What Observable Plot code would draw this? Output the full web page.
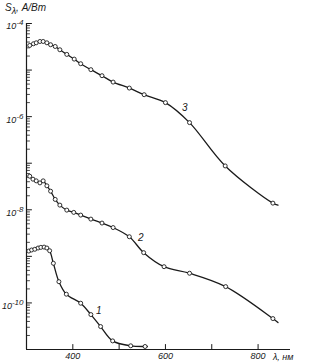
<!DOCTYPE html>
<html>
<head>
<meta charset="utf-8">
<script src="https://cdn.jsdelivr.net/npm/d3@7"></script>
<script src="https://cdn.jsdelivr.net/npm/@observablehq/plot@0.6"></script>
<style>
  body { margin: 0; background: #fff; }
  #wrap { position: relative; width: 324px; height: 363px; }
  #ylab { position: absolute; left: 5px; top: 2px; font: italic 10px "Liberation Sans", sans-serif; color: #1a1a1a; z-index: 2; }
  #ylab sub { font-size: 9px; }
</style>
</head>
<body>
<div id="wrap"><div id="ylab">S<sub>λ</sub>, А/Вт</div></div>
<script>
// Curve 3
const lambda3 = [307, 315, 321, 329, 336, 344, 352, 362, 372, 387, 403, 417, 439, 463, 487, 522, 554, 600, 652, 729, 832];
const s3 = [3.38e-5, 3.67e-5, 3.85e-5, 4.11e-5, 4.11e-5, 3.85e-5, 3.50e-5, 3.21e-5, 2.73e-5, 2.17e-5, 1.72e-5, 1.37e-5, 1.02e-5, 7.57e-6, 5.52e-6, 4.11e-6, 2.96e-6, 2.0e-6, 7.45e-7, 8.75e-8, 1.39e-8];
// Curve 2
const lambda2 = [307, 314, 321, 329, 336, 344, 352, 362, 372, 387, 402, 417, 439, 463, 487, 522, 553, 597, 652, 730, 832];
const s2 = [5.26e-8, 4.54e-8, 4.18e-8, 3.78e-8, 4.18e-8, 3.27e-8, 2.51e-8, 1.67e-8, 1.26e-8, 9.84e-9, 8.79e-9, 7.69e-9, 6.31e-9, 5.19e-9, 4.15e-9, 2.64e-9, 1.20e-9, 6.0e-10, 4.34e-10, 2.24e-10, 4.61e-11];
// Curve 1
const lambda1 = [305, 311, 318, 325, 331, 338, 344, 350, 358, 370, 386, 417, 439, 460, 486, 525, 556];
const s1 = [1.30e-9, 1.37e-9, 1.42e-9, 1.51e-9, 1.56e-9, 1.58e-9, 1.51e-9, 1.32e-9, 7.10e-10, 2.86e-10, 1.54e-10, 9.86e-11, 5.62e-11, 3.11e-11, 1.53e-11, 1.20e-11, 1.16e-11];
// line tails past the last marker
const tailLambda = {"1": 561, "2": 843, "3": 843};
const tailS = {"1": 1.16e-11, "2": 3.8e-11, "3": 1.26e-8};

const seriesNames = ["1", "2", "3"];
const curveLabelLambda = [456, 547, 642];
const curveLabelS = [6.7e-11, 2.47e-9, 1.58e-6];

const xTickValues = [400, 500, 600, 700, 800];
const xTickLabels = [400, 600, 800];
const yLabelValues = [1e-4, 1e-6, 1e-8, 1e-10];
const yLabelExp = ["-4", "-6", "-8", "-10"];
const decades = [-11, -10, -9, -8, -7, -6, -5, -4];

const pts = [];
[[lambda1, s1, "1"], [lambda2, s2, "2"], [lambda3, s3, "3"]].forEach(([xs, ys, k]) => {
  xs.forEach((x, i) => pts.push({lambda: x, s: ys[i], curve: k}));
});
const linePts = [];
seriesNames.forEach(k => {
  pts.filter(d => d.curve === k).forEach(d => linePts.push(d));
  linePts.push({lambda: tailLambda[k], s: tailS[k], curve: k});
});
const labels = seriesNames.map((k, i) => ({lambda: curveLabelLambda[i], s: curveLabelS[i], text: k}));

const yDecadeTicks = decades.map(e => Math.pow(10, e));
const yMinorTicks = [];
decades.slice(0, -1).forEach(e => { for (let m = 2; m <= 9; m++) yMinorTicks.push(m * Math.pow(10, e)); });

const tickShape = {draw(context, l) { context.moveTo(0, 0); context.lineTo(0, -l); }};

const ink = "#1a1a1a";
const chart = Plot.plot({
  width: 324,
  height: 363,
  marginLeft: 26,
  marginRight: 34,
  marginTop: 23,
  marginBottom: 14,
  x: {domain: [300, 870]},
  y: {type: "log", domain: [1e-11, 1e-4]},
  style: {fontFamily: "Liberation Sans, sans-serif", fontStyle: "italic", fontSize: "9px", background: "transparent", color: ink},
  marks: [
    Plot.ruleX([300], {stroke: ink, strokeWidth: 1.2}),
    Plot.ruleY([1e-11], {stroke: ink, strokeWidth: 1.2}),
    Plot.vector(yMinorTicks, {y: d => d, frameAnchor: "left", length: 3, rotate: 90, anchor: "start", shape: tickShape, strokeWidth: 0.8, stroke: ink}),
    Plot.vector(yDecadeTicks, {y: d => d, frameAnchor: "left", length: 5, rotate: 90, anchor: "start", shape: tickShape, strokeWidth: 1, stroke: ink}),
    Plot.vector(xTickValues, {x: d => d, frameAnchor: "bottom", length: 5, rotate: 0, anchor: "start", shape: tickShape, strokeWidth: 1, stroke: ink}),
    Plot.axisX({ticks: xTickLabels, tickSize: 0, tickPadding: 3, label: null, tickFormat: d => String(d)}),
    Plot.axisY({ticks: yLabelValues, tickSize: 0, tickPadding: 3, label: null, tickFormat: d => "10", dy: 3}),
    Plot.line(linePts, {x: "lambda", y: "s", z: "curve", curve: "catmull-rom", stroke: ink, strokeWidth: 1.3}),
    Plot.dot(pts, {x: "lambda", y: "s", r: 2, stroke: ink, strokeWidth: 0.9, fill: "white"}),
    Plot.text(labels, {x: "lambda", y: "s", text: "text", fontSize: 10, fontStyle: "italic", fill: ink}),
    Plot.text(["λ, нм"], {frameAnchor: "bottom-right", textAnchor: "end", dy: 10, dx: 3, fontSize: 9, fill: ink})
  ]
});
document.getElementById("wrap").appendChild(chart);

// add superscript exponents to y tick labels
d3.select(chart).selectAll("g[aria-label='y-axis tick label'] text").each(function(d, i) {
  const t = d3.select(this);
  t.text("10");
  t.append("tspan").attr("dy", "-0.5em").attr("font-size", "8px").text(yLabelExp[i]);
}).attr("text-anchor", "end");
chart.style.position = "absolute";
chart.style.left = "0";
chart.style.top = "0";
</script>
</body>
</html>
